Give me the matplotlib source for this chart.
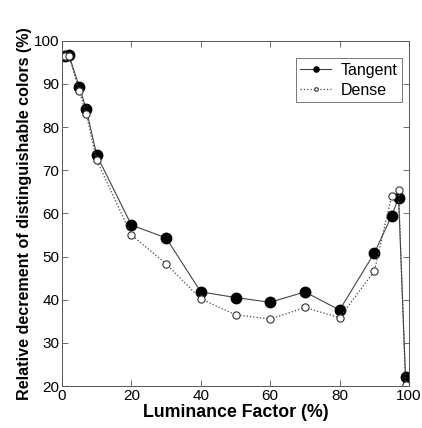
import numpy as np
import matplotlib.pyplot as plt

plt.rcParams['font.family'] = ['Liberation Sans', 'DejaVu Sans']

lum = [1, 2, 5, 7, 10, 20, 30, 40, 50, 60, 70, 80, 90, 95, 97, 99]
tangent = [96.5, 96.6, 89.3, 84.1, 73.5, 57.3, 54.3, 41.8, 40.5, 39.4, 41.8, 37.6, 50.8, 59.4, 63.6, 22.2]
dense = [96.4, 96.5, 88.3, 83.0, 72.3, 55.0, 48.3, 40.2, 36.5, 35.5, 38.2, 35.8, 46.6, 64.0, 65.3, 20.2]

fig = plt.figure(figsize=(4.22, 4.28), dpi=100)
ax = fig.add_axes([62/422, 1-386/428, 347/422, 345.3/428])

ax.plot(lum, tangent, '-', color='#444444', lw=0.8, marker='o', ms=7.5,
        mfc='black', mec='black', label='Tangent')
ax.plot(lum, dense, ':', color='#444444', lw=0.9, marker='o', ms=5.2,
        mfc='white', mec='#333333', mew=0.8, label='Dense')

ax.set_xlim(0, 100)
ax.set_ylim(20, 100)
ax.set_xticks(np.arange(0, 101, 20))
ax.set_yticks(np.arange(20, 101, 10))
ax.tick_params(direction='in', top=True, right=True, labelsize=11, length=4, width=0.6,
               color='#555555', pad=2)
for s in ax.spines.values():
    s.set_linewidth(0.7)
    s.set_color('#555555')
ax.set_xlabel('Luminance Factor (%)', fontsize=12.8, fontweight='bold', labelpad=1)
ax.set_ylabel('Relative decrement of distinguishable colors (%)', fontsize=11.6, fontweight='bold', labelpad=1)

leg = ax.legend(loc='upper right', bbox_to_anchor=(0.98, 0.95), fontsize=11.5, fancybox=False,
                edgecolor='#555555', handlelength=1.9, borderpad=0.3, labelspacing=0.3,
                handletextpad=0.6, markerscale=0.5, borderaxespad=0)
leg.get_frame().set_linewidth(0.7)

fig.savefig('out.png', dpi=100)
